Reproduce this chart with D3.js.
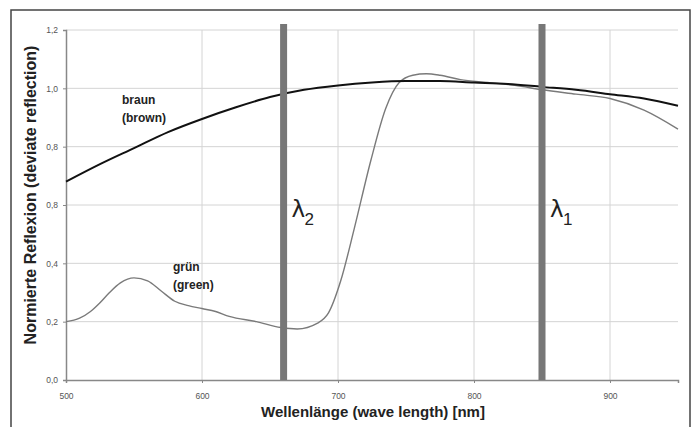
<!DOCTYPE html>
<html>
<head>
<meta charset="utf-8">
<script src="https://cdn.jsdelivr.net/npm/d3@7"></script>
<style>
  body { margin: 0; background: #fff; }
  text { font-family: "Liberation Sans", Arial, sans-serif; }
</style>
</head>
<body>
<div id="chart"></div>
<script>
// wavelength grid (nm) and read-off reflection values
var brownNm  = [500, 525, 550, 575, 600, 625, 650, 675, 700, 725, 750, 775, 800, 825, 850, 875, 900, 925, 950];
var brownVal = [0.68, 0.74, 0.795, 0.85, 0.895, 0.935, 0.97, 0.995, 1.01, 1.02, 1.025, 1.025, 1.02, 1.015, 1.005, 0.995, 0.98, 0.965, 0.94];

var greenNm  = [500, 510, 518, 525, 532, 540, 550, 560, 570, 580, 590, 600, 610, 620, 640, 658, 670, 685, 693, 702, 712, 724, 735, 745, 755, 765, 775, 790, 810, 830, 850, 875, 900, 925, 950];
var greenVal = [0.2, 0.212, 0.235, 0.265, 0.3, 0.333, 0.35, 0.34, 0.305, 0.27, 0.255, 0.245, 0.235, 0.218, 0.2, 0.18, 0.175, 0.195, 0.23, 0.34, 0.52, 0.75, 0.93, 1.02, 1.045, 1.05, 1.045, 1.03, 1.02, 1.01, 0.995, 0.98, 0.965, 0.925, 0.86];

var bandNm = [660, 850];
var bandLabels = ["2", "1"];

var yTicks = [0, 0.2, 0.4, 0.6, 0.8, 1.0, 1.2];
var yTickLabels = ["0,0", "0,2", "0,4", "0,8", "0,8", "1,0", "1,2"];
var xTicks = [500, 600, 700, 800, 900];

var W = 698, H = 427;
var margin = {top: 30, right: 20, bottom: 47, left: 66};
var width = 678 - margin.left,
    height = 380 - margin.top;

var svg = d3.select("#chart").append("svg")
    .attr("width", W)
    .attr("height", H);

// outer frame
svg.append("rect")
    .attr("x", 11).attr("y", 10)
    .attr("width", 679).attr("height", 430)
    .attr("fill", "none")
    .attr("stroke", "#444")
    .attr("stroke-width", 1.5);

var g = svg.append("g")
    .attr("transform", "translate(" + margin.left + "," + margin.top + ")");

var x = d3.scaleLinear().domain([500, 950]).range([0, width]);
var y = d3.scaleLinear().domain([0, 1.2]).range([height, 0]);

// grid
g.selectAll("line.hgrid").data(yTicks.slice(1)).enter().append("line")
    .attr("class", "hgrid")
    .attr("x1", 0).attr("x2", width)
    .attr("y1", d => y(d)).attr("y2", d => y(d))
    .attr("stroke", "#d4d4d4").attr("stroke-width", 1);

g.selectAll("line.vgrid").data(xTicks.slice(1)).enter().append("line")
    .attr("class", "vgrid")
    .attr("y1", 0).attr("y2", height)
    .attr("x1", d => x(d)).attr("x2", d => x(d))
    .attr("stroke", "#d4d4d4").attr("stroke-width", 1);

// axes
var xAxis = g.append("g")
    .attr("transform", "translate(0," + height + ")")
    .call(d3.axisBottom(x).tickValues(xTicks).tickSize(3).tickPadding(10).tickFormat(d3.format("d")));
var yAxis = g.append("g")
    .call(d3.axisLeft(y).tickValues(yTicks).tickSize(3).tickPadding(5)
        .tickFormat((d, i) => yTickLabels[i]));

[xAxis, yAxis].forEach(function(a) {
  a.select(".domain").attr("stroke", "#888").attr("stroke-width", 1.5);
  a.selectAll(".tick line").attr("stroke", "#888");
  a.selectAll(".tick text").attr("fill", "#555").style("font-size", "8.5px")
      .style("font-family", "'Liberation Sans Narrow', 'Liberation Sans', sans-serif");
});

// curves
var line = d3.line().curve(d3.curveMonotoneX)
    .x(d => x(d[0])).y(d => y(d[1]));

g.append("path")
    .datum(greenNm.map((d, i) => [d, greenVal[i]]))
    .attr("d", line)
    .attr("fill", "none")
    .attr("stroke", "#7a7a7a")
    .attr("stroke-width", 1.4);

g.append("path")
    .datum(brownNm.map((d, i) => [d, brownVal[i]]))
    .attr("d", line)
    .attr("fill", "none")
    .attr("stroke", "#111")
    .attr("stroke-width", 2);

// wavelength bands
g.selectAll("rect.band").data(bandNm).enter().append("rect")
    .attr("class", "band")
    .attr("x", d => x(d) - 3.5)
    .attr("y", -6)
    .attr("width", 7)
    .attr("height", height + 6)
    .attr("fill", "#777");

var lab = g.selectAll("g.lam").data(bandNm).enter().append("g")
    .attr("class", "lam")
    .attr("transform", d => "translate(" + (x(d) + 8) + "," + (y(0.6) + 12) + ")");
lab.append("text")
    .style("font-family", "'DejaVu Sans', sans-serif")
    .style("font-size", "23px")
    .attr("fill", "#222")
    .text("λ");
lab.append("text")
    .attr("x", 13).attr("y", 8)
    .style("font-size", "17px")
    .attr("fill", "#222")
    .text((d, i) => bandLabels[i]);

// curve labels
function label2(tx, ty, a, b) {
  var t = g.append("text")
      .attr("x", tx).attr("y", ty)
      .style("font-size", "12px").style("font-weight", "bold")
      .attr("fill", "#222");
  t.append("tspan").attr("x", tx).text(a);
  t.append("tspan").attr("x", tx).attr("dy", 18).text(b);
}
label2(56, 74, "braun", "(brown)");
label2(107, 241, "grün", "(green)");

// axis titles
svg.append("text")
    .attr("x", 373).attr("y", 417)
    .attr("text-anchor", "middle")
    .style("font-size", "15px").style("font-weight", "bold")
    .attr("fill", "#222")
    .text("Wellenlänge (wave length) [nm]");

svg.append("text")
    .attr("transform", "translate(36," + 195 + ") rotate(-90)")
    .attr("text-anchor", "middle")
    .style("font-size", "16px").style("font-weight", "bold")
    .attr("fill", "#222")
    .text("Normierte Reflexion (deviate reflection)");
</script>
</body>
</html>
